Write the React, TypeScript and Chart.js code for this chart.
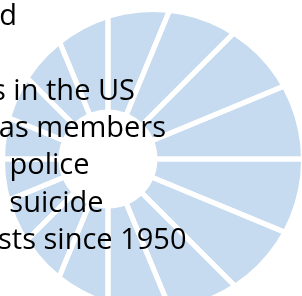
import React, { useEffect, useRef } from "react";
import { Chart, registerables } from "chart.js";

Chart.register(...registerables);

// ---- Data ----
const segmentLabels = ["1", "2", "3", "4", "5", "6", "7", "8", "9", "10", "11", "12", "13", "14", "15", "16"];
const segmentValues = [1, 1, 1, 1, 1, 1, 1, 1, 1, 1, 1, 1, 1, 1, 1, 1];
const discLabels = ["All"];
const discValues = [1];
const holeValues = [1];
const textLines = ["d", "", "s in the US", "as members", "police", "suicide", "sts since 1950"];

// ---- Layout / style (kept apart from data) ----
const VIEW_W = 302;
const VIEW_H = 296;
const BLUE = "#c6dbef";
const DISC = { left: 5, top: 12, size: 296 };
const SPOKES = { left: -112, top: -61, size: 440, radius: 212, ringWeight: 165, holeWeight: 47 };
const LINE_END = [17, 0, 135, 166, 89.5, 103.5, 186.5];
const FONT_SIZE = 29;
const TEXT_TOP = -4.9;
const LINE_H = 37.33;

function ChartCanvas({ box, build }: { box: { left: number; top: number; size: number }; build: () => any }) {
  const ref = useRef<HTMLCanvasElement | null>(null);
  useEffect(() => {
    if (!ref.current) return;
    const chart = new Chart(ref.current, build());
    return () => chart.destroy();
  }, []);
  return (
    <canvas
      ref={ref}
      width={box.size}
      height={box.size}
      style={{ position: "absolute", left: box.left, top: box.top, width: box.size, height: box.size, display: "block" }}
    />
  );
}

const commonOptions = {
  responsive: false,
  animation: false,
  events: [],
  plugins: { legend: { display: false }, tooltip: { enabled: false }, title: { display: false } },
  layout: { padding: 0 },
};

function buildDisc() {
  return {
    type: "pie",
    data: {
      labels: discLabels,
      datasets: [{ data: discValues, backgroundColor: BLUE, borderWidth: 0, hoverBorderWidth: 0 }],
    },
    options: { ...commonOptions },
  };
}

function buildSpokes() {
  return {
    type: "doughnut",
    data: {
      labels: segmentLabels,
      datasets: [
        {
          data: segmentValues,
          backgroundColor: "rgba(0,0,0,0)",
          borderColor: "#ffffff",
          borderWidth: 5,
          hoverBorderWidth: 5,
          weight: SPOKES.ringWeight,
        },
        {
          data: holeValues,
          backgroundColor: "#ffffff",
          borderWidth: 0,
          hoverBorderWidth: 0,
          weight: SPOKES.holeWeight,
        },
      ],
    },
    options: { ...commonOptions, cutout: 0, radius: SPOKES.radius },
  };
}

export default function App() {
  return (
    <div
      style={{
        position: "fixed",
        left: 0,
        top: 0,
        width: VIEW_W,
        height: VIEW_H,
        overflow: "hidden",
        background: "#ffffff",
      }}
    >
      <ChartCanvas box={DISC} build={buildDisc} />
      <ChartCanvas box={SPOKES} build={buildSpokes} />
      {textLines.map((line, i) =>
        line ? (
          <div
            key={i}
            style={{
              position: "absolute",
              right: VIEW_W - LINE_END[i],
              top: TEXT_TOP + i * LINE_H,
              whiteSpace: "nowrap",
              fontFamily: "'Open Sans', sans-serif",
              fontSize: FONT_SIZE,
              lineHeight: LINE_H + "px",
              color: "#000000",
            }}
          >
            {line}
          </div>
        ) : null
      )}
    </div>
  );
}
